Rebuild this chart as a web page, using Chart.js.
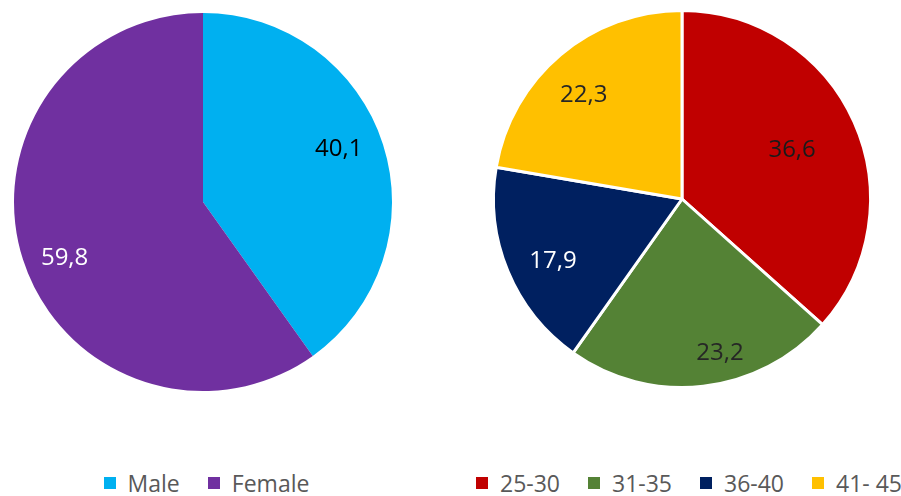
<!DOCTYPE html>
<html>
<head>
<meta charset="utf-8">
<script src="https://cdn.jsdelivr.net/npm/chart.js@4"></script>
<style>
  html, body { margin: 0; padding: 0; background: #fff; width: 901px; height: 496px; overflow: hidden; }
  body { position: relative; font-family: "Open Sans", sans-serif; }
  .pie { position: absolute; top: 0; }
  #genderWrap { left: 0; width: 406px; height: 402px; }
  #ageWrap { left: 463px; width: 438px; height: 402px; }
  .legend { position: absolute; top: 467px; display: flex; justify-content: center; align-items: center;
            font-size: 23px; color: #595959; white-space: nowrap; }
  #genderLegend { left: 0; width: 413px; }
  #ageLegend { left: 459px; width: 460px; }
  .legend .item { display: flex; align-items: center; margin: 0 14px; }
  .legend .box { width: 12px; height: 12px; margin-right: 12px; }
</style>
</head>
<body>
<div id="genderWrap" class="pie"><canvas id="genderChart"></canvas></div>
<div id="ageWrap" class="pie"><canvas id="ageChart"></canvas></div>
<div id="genderLegend" class="legend"></div>
<div id="ageLegend" class="legend"></div>
<script>
// data
const genderLabels = ['Male', 'Female'];
const genderValues = [40.1, 59.8];
const ageLabels = ['25-30', '31-35', '36-40', '41- 45'];
const ageValues = [36.6, 23.2, 17.9, 22.3];

// styling
const genderColors = ['#00B0F0', '#7030A0'];
const ageColors = ['#C00000', '#548235', '#002060', '#FFC000'];
const genderLabelColors = ['#000000', '#ffffff'];
const ageLabelColors = ['#1a1a1a', '#262626', '#ffffff', '#262626'];
// label placement: fraction of radius, and angle nudge (degrees) from the slice middle
const genderLabelPos = [0.77, 0.79];
const genderLabelTurn = [-3.4, -4.3];
const ageLabelPos = [0.64, 0.84, 0.76, 0.76];
const ageLabelTurn = [0, -7.4, -3.2, -3.2];

// draws the value inside each slice, with a decimal comma
const sliceLabels = {
  id: 'sliceLabels',
  afterDatasetsDraw(chart, args, opts) {
    const ctx = chart.ctx;
    const meta = chart.getDatasetMeta(0);
    const values = chart.data.datasets[0].data;
    ctx.save();
    ctx.font = '24px "Open Sans", sans-serif';
    ctx.textAlign = 'center';
    ctx.textBaseline = 'middle';
    meta.data.forEach((arc, i) => {
      const p = arc.getProps(['x', 'y', 'startAngle', 'endAngle', 'outerRadius'], true);
      const mid = (p.startAngle + p.endAngle) / 2 + opts.turn[i] * Math.PI / 180;
      const r = p.outerRadius * opts.pos[i];
      ctx.fillStyle = opts.colors[i];
      ctx.fillText(String(values[i]).replace('.', ','), p.x + Math.cos(mid) * r, p.y + Math.sin(mid) * r);
    });
    ctx.restore();
  }
};

function makePie(canvasId, labels, values, colors, border, labelColors, labelPos, labelTurn, padding) {
  return new Chart(document.getElementById(canvasId), {
    type: 'pie',
    data: {
      labels: labels,
      datasets: [{
        data: values,
        backgroundColor: colors,
        borderColor: '#ffffff',
        borderWidth: border
      }]
    },
    options: {
      responsive: true,
      maintainAspectRatio: false,
      animation: false,
      layout: { padding: padding },
      plugins: {
        legend: { display: false },
        tooltip: { enabled: false },
        sliceLabels: { colors: labelColors, pos: labelPos, turn: labelTurn }
      }
    },
    plugins: [sliceLabels]
  });
}

// legend built from the chart's own labels and colours
function buildLegend(chart, elId) {
  const el = document.getElementById(elId);
  const ds = chart.data.datasets[0];
  chart.data.labels.forEach((lab, i) => {
    const item = document.createElement('div');
    item.className = 'item';
    item.innerHTML = `<span class="box" style="background:${ds.backgroundColor[i]}"></span><span>${lab}</span>`;
    el.appendChild(item);
  });
}

const genderChart = makePie('genderChart', genderLabels, genderValues, genderColors, 0,
  genderLabelColors, genderLabelPos, genderLabelTurn, { top: 13, bottom: 11 });
const ageChart = makePie('ageChart', ageLabels, ageValues, ageColors, 3,
  ageLabelColors, ageLabelPos, ageLabelTurn, { top: 9, bottom: 13 });

buildLegend(genderChart, 'genderLegend');
buildLegend(ageChart, 'ageLegend');
</script>
</body>
</html>
